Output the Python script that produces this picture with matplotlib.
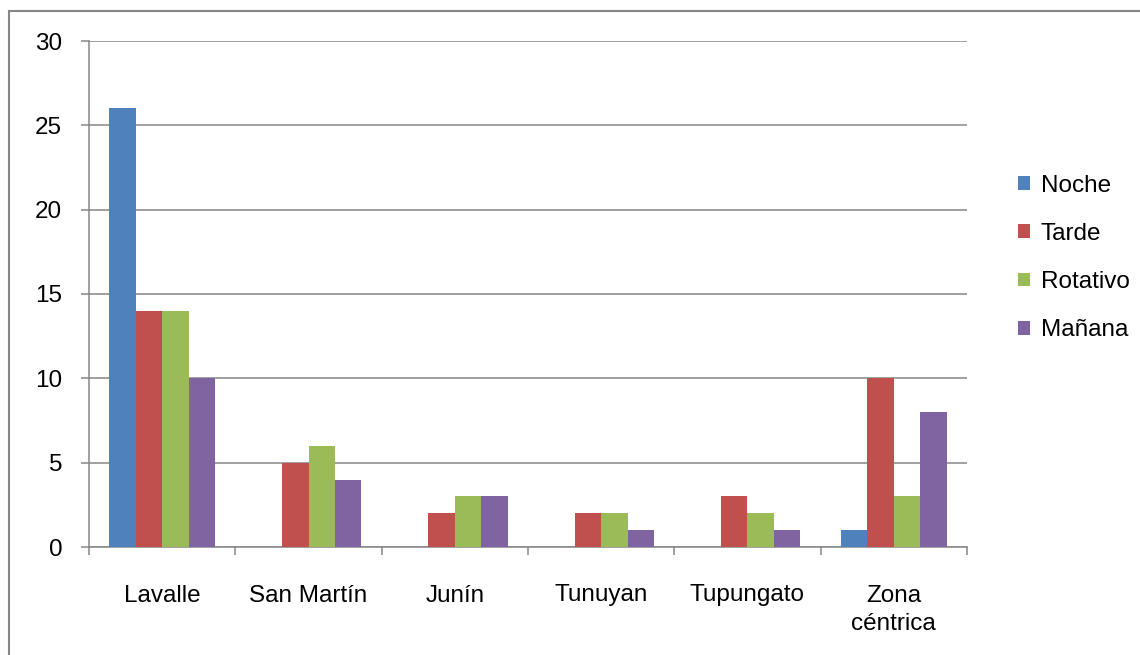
import matplotlib.pyplot as plt
import numpy as np
from matplotlib.patches import Rectangle

plt.rcParams['font.family'] = ['Liberation Sans', 'DejaVu Sans']

categories = ["Lavalle", "San Martín", "Junín", "Tunuyan", "Tupungato", "Zona\ncéntrica"]
series = ["Noche", "Tarde", "Rotativo", "Mañana"]
noche = [26, 0, 0, 0, 0, 1]
tarde = [14, 5, 2, 2, 3, 10]
rotativo = [14, 6, 3, 2, 2, 3]
manana = [10, 4, 3, 1, 1, 8]
colors = ["#4F81BD", "#C0504D", "#9BBB59", "#8064A2"]

W, H = 1140, 655
FS = 17.5
fig = plt.figure(figsize=(W / 100, H / 100), dpi=100)

# outer chart frame (cut off on right and bottom)
fig.patches.append(Rectangle((9 / W, -0.1), 1.2, 1 - 11 / H + 0.1,
                             transform=fig.transFigure, fill=False,
                             edgecolor="#868686", linewidth=1.5))

ax = fig.add_axes([89 / W, 1 - 547 / H, (967 - 89) / W, (547 - 41) / H])

x = np.arange(len(categories))
bw = 0.181
for i, (vals, name) in enumerate(zip([noche, tarde, rotativo, manana], series)):
    ax.bar(x + (i - 1.5) * bw, vals, bw, color=colors[i], label=name, zorder=3)

ax.set_xlim(-0.5, len(categories) - 0.5)
ax.set_ylim(0, 30)
ax.set_yticks(range(0, 31, 5))
ax.yaxis.grid(True, color="#868686", linewidth=1.1, zorder=0)

ax.set_xticks(x)
ax.set_xticklabels(categories, fontsize=FS, linespacing=1.36)
ax.set_xticks(np.arange(-0.5, len(categories)), minor=True)
ax.tick_params(axis="x", which="major", length=0, pad=27)
ax.tick_params(axis="x", which="minor", length=5.8, width=1.1, color="#868686")
ax.tick_params(axis="y", length=5.8, width=1.1, color="#868686", labelsize=FS, pad=13.5)

for s in ["top", "right"]:
    ax.spines[s].set_visible(False)
for s in ["left", "bottom"]:
    ax.spines[s].set_color("#868686")
    ax.spines[s].set_linewidth(1.1)

leg = ax.legend(loc="center left", bbox_to_anchor=(996 / W, 1 - 258 / H),
                bbox_transform=fig.transFigure, frameon=False, fontsize=FS,
                handlelength=0.5, handleheight=0.5, handletextpad=0.45,
                labelspacing=1.08)

fig.savefig("out.png", dpi=100)
